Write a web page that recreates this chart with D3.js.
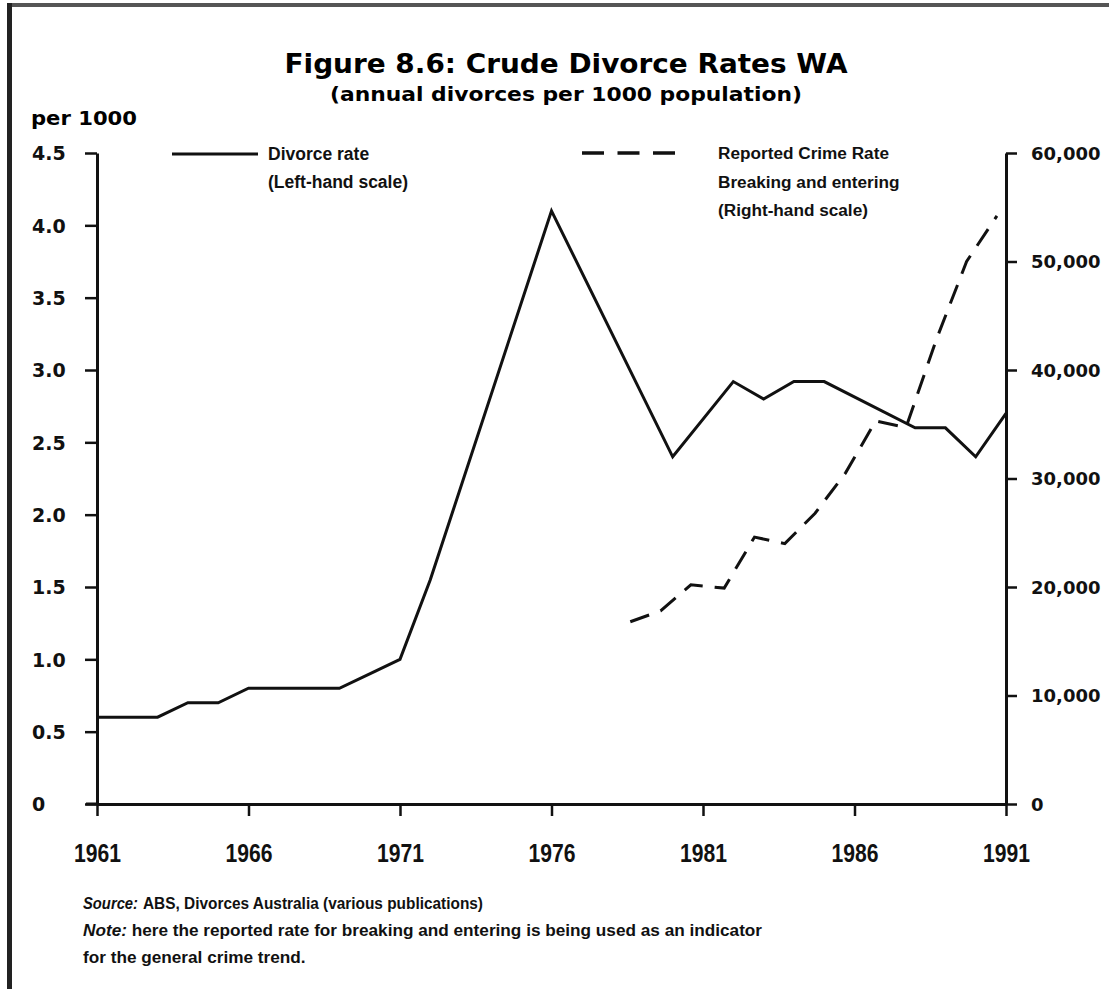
<!DOCTYPE html>
<html><head><meta charset="utf-8">
<script src="https://cdn.jsdelivr.net/npm/d3@7"></script>
<style>body{margin:0;background:#fff}svg{display:block}</style>
</head><body>
<svg id="c" width="1109" height="989"></svg>
<script>
// ---- data ----
const divorceYears = [1961,1963,1964,1965,1966,1969,1970,1971,1972,1976,1980,1982,1983,1984,1985,1988,1989,1990,1991];
const divorceRate  = [0.6,0.6,0.7,0.7,0.8,0.8,0.9,1.0,1.55,4.1,2.4,2.92,2.8,2.92,2.92,2.6,2.6,2.4,2.7];
const crimeYears = [1978.6,1979.6,1980.6,1981.7,1982.7,1983.7,1984.7,1985.7,1986.7,1987.7,1988.7,1989.7,1990.7];
const crimeRate  = [16800,17800,20200,19900,24600,24000,26800,30500,35300,34700,42800,50000,54200];
const xTicks = [1961,1966,1971,1976,1981,1986,1991];
const leftTicks = [0,0.5,1,1.5,2,2.5,3,3.5,4,4.5];
const leftTickLabels = ["0","0.5","1.0","1.5","2.0","2.5","3.0","3.5","4.0","4.5"];
const rightTicks = [0,10000,20000,30000,40000,50000,60000];
const rightTickLabels = ["0","10,000","20,000","30,000","40,000","50,000","60,000"];
const title = "Figure 8.6: Crude Divorce Rates WA";
const subtitle = "(annual divorces per 1000 population)";
const leftUnit = "per 1000";
const legendDivorce = ["Divorce rate","(Left-hand scale)"];
const legendCrime = ["Reported Crime Rate","Breaking and entering","(Right-hand scale)"];

const svg = d3.select('#c');
const x  = d3.scaleLinear().domain([1961,1991]).range([97,1006]);
const yL = d3.scaleLinear().domain([0,4.5]).range([804,153]);
const yR = d3.scaleLinear().domain([0,60000]).range([804,153]);

// frame (scan border)
svg.append('rect').attr('x',8).attr('y',3).attr('width',1101).attr('height',4).attr('fill','#555');
svg.append('rect').attr('x',7).attr('y',3).attr('width',5).attr('height',986).attr('fill','#222');

const tickFont = 'DejaVu Sans, Verdana, sans-serif';
const textFont = 'Liberation Sans, Arial, Helvetica, sans-serif';

// titles
svg.append('text').attr('x',566).attr('y',73).attr('text-anchor','middle')
  .attr('font-family',tickFont).attr('font-weight','bold').attr('font-size',26)
  .attr('textLength',563).attr('lengthAdjust','spacingAndGlyphs').text(title);
svg.append('text').attr('x',566).attr('y',101).attr('text-anchor','middle')
  .attr('font-family',tickFont).attr('font-weight','bold').attr('font-size',20)
  .attr('textLength',472).attr('lengthAdjust','spacingAndGlyphs').text(subtitle);
svg.append('text').attr('x',31).attr('y',125)
  .attr('font-family',tickFont).attr('font-weight','bold').attr('font-size',20)
  .attr('textLength',106).attr('lengthAdjust','spacingAndGlyphs').text(leftUnit);

function styleAxis(g){
  g.selectAll('path.domain').attr('stroke','#111').attr('stroke-width',3);
  g.selectAll('.tick line').attr('stroke','#111').attr('stroke-width',2.5);
  g.selectAll('.tick text').attr('fill','#111');
}

// left axis
const gL = svg.append('g').attr('transform','translate(97,0)')
  .call(d3.axisLeft(yL).tickValues(leftTicks).tickSize(12).tickSizeOuter(0)
        .tickFormat((d,i)=>leftTickLabels[i]));
styleAxis(gL);
gL.selectAll('.tick text').attr('text-anchor','start').attr('x',-65).attr('dy','0.36em')
  .attr('font-family',tickFont).attr('font-weight','bold').attr('font-size',19);

// right axis
const gR = svg.append('g').attr('transform','translate(1006,0)')
  .call(d3.axisRight(yR).tickValues(rightTicks).tickSize(11).tickSizeOuter(0)
        .tickFormat((d,i)=>rightTickLabels[i]));
styleAxis(gR);
gR.selectAll('.tick text').attr('x',25).attr('dy','0.36em')
  .attr('font-family',tickFont).attr('font-weight','bold').attr('font-size',18);

// bottom axis
svg.append('line').attr('x1',86).attr('x2',x(1961)).attr('y1',yL(0)).attr('y2',yL(0))
  .attr('stroke','#111').attr('stroke-width',3);
const gB = svg.append('g').attr('transform',`translate(0,${yL(0)})`)
  .call(d3.axisBottom(x).tickValues(xTicks).tickSize(12).tickSizeOuter(0).tickFormat(d3.format('d')));
styleAxis(gB);
gB.selectAll('.tick text').attr('y',58).attr('dy',0)
  .attr('font-family','Liberation Sans Narrow, Arial Narrow, Liberation Sans, sans-serif')
  .attr('font-weight','bold').attr('font-size',25)
  .attr('textLength',47).attr('lengthAdjust','spacingAndGlyphs');

// lines
const divData = divorceYears.map((d,i)=>({x:d,y:divorceRate[i]}));
const crimeData = crimeYears.map((d,i)=>({x:d,y:crimeRate[i]}));
svg.append('path').datum(divData)
  .attr('d',d3.line().x(d=>x(d.x)).y(d=>yL(d.y)))
  .attr('fill','none').attr('stroke','#111').attr('stroke-width',3).attr('stroke-linejoin','miter');
svg.append('path').datum(crimeData)
  .attr('d',d3.line().x(d=>x(d.x)).y(d=>yR(d.y)))
  .attr('fill','none').attr('stroke','#111').attr('stroke-width',3).attr('stroke-dasharray','20,12');

// legend
svg.append('line').attr('x1',172).attr('x2',258).attr('y1',154).attr('y2',154)
  .attr('stroke','#111').attr('stroke-width',3);
svg.append('line').attr('x1',582).attr('x2',675).attr('y1',153).attr('y2',153)
  .attr('stroke','#111').attr('stroke-width',3.5).attr('stroke-dasharray','22,13.5');
legendDivorce.forEach((t,i)=>{
  svg.append('text').attr('x',268).attr('y',160+i*28)
    .attr('font-family',textFont).attr('font-weight','bold').attr('font-size',17.5).attr('fill','#111').text(t);
});
legendCrime.forEach((t,i)=>{
  svg.append('text').attr('x',718).attr('y',159+i*28.5)
    .attr('font-family',textFont).attr('font-weight','bold').attr('font-size',17.2).attr('fill','#111').text(t);
});

// footnotes
const fn = svg.append('g').attr('font-family',textFont).attr('font-size',17.2).attr('font-weight','bold').attr('fill','#111');
fn.append('text').attr('x',83).attr('y',909).attr('font-style','italic')
  .attr('textLength',55).attr('lengthAdjust','spacingAndGlyphs').text('Source:');
fn.append('text').attr('x',143).attr('y',909)
  .attr('textLength',340).attr('lengthAdjust','spacingAndGlyphs').text('ABS, Divorces Australia (various publications)');
const t2 = fn.append('text').attr('x',83).attr('y',936);
t2.append('tspan').attr('font-style','italic').text('Note:');
t2.append('tspan').text(' here the reported rate for breaking and entering is being used as an indicator');
fn.append('text').attr('x',83).attr('y',963).text('for the general crime trend.');
</script>
</body></html>
